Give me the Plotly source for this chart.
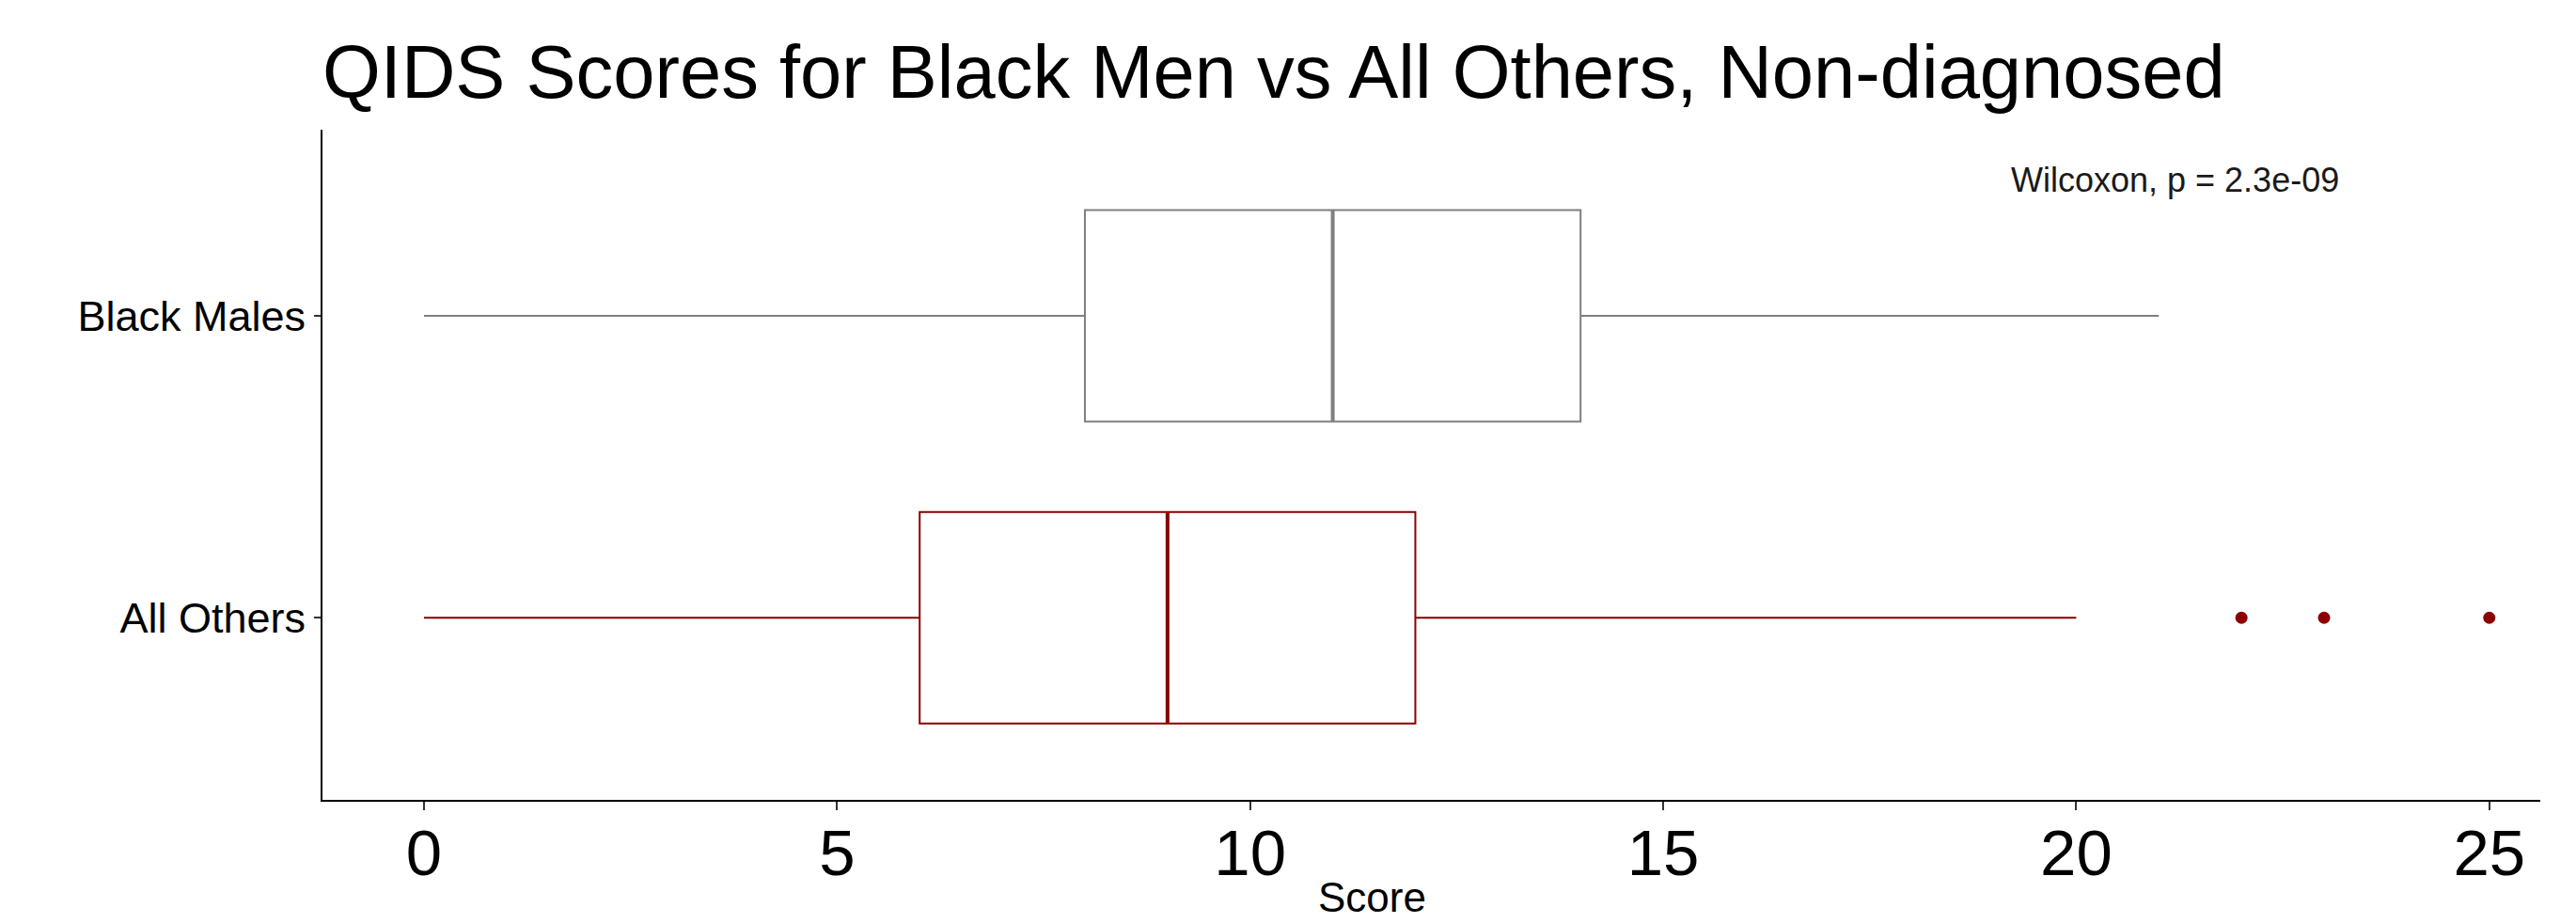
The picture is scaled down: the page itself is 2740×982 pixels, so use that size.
import plotly.graph_objects as go

# QIDS score summaries per group (horizontal boxplots)
categories = ["All Others", "Black Males"]
lower_whisker = [0, 0]
q1 = [6, 8]
median = [9, 11]
q3 = [12, 14]
upper_whisker = [20, 21]
outliers = {"All Others": [22, 23, 25], "Black Males": []}
group_colors = {"All Others": "#8B0000", "Black Males": "#7F7F7F"}

x_ticks = [0, 5, 10, 15, 20, 25]
title_text = "QIDS Scores for Black Men vs All Others, Non-diagnosed"
x_title = "Score"
test_label = "Wilcoxon, p = 2.3e-09"

FONT = "Arial, Liberation Sans, sans-serif"
BOX_WIDTH = 0.7

fig = go.Figure()

for pos, name in enumerate(categories):
    color = group_colors[name]
    fig.add_trace(go.Box(
        y=[pos],
        q1=[q1[pos]], median=[median[pos]], q3=[q3[pos]],
        lowerfence=[lower_whisker[pos]], upperfence=[upper_whisker[pos]],
        orientation="h",
        width=BOX_WIDTH,
        whiskerwidth=0,
        fillcolor="white",
        line=dict(color=color, width=2),
        hoverinfo="skip",
        showlegend=False,
    ))
    # heavier median stroke
    fig.add_trace(go.Scatter(
        x=[median[pos], median[pos]],
        y=[pos - BOX_WIDTH / 2, pos + BOX_WIDTH / 2],
        mode="lines",
        line=dict(color=color, width=4),
        hoverinfo="skip",
        showlegend=False,
    ))
    if outliers[name]:
        fig.add_trace(go.Scatter(
            x=outliers[name],
            y=[pos] * len(outliers[name]),
            mode="markers",
            marker=dict(color=color, size=13),
            hoverinfo="skip",
            showlegend=False,
        ))

fig.update_layout(
    width=2740,
    height=982,
    margin=dict(l=343, r=38, t=138, b=131),
    paper_bgcolor="white",
    plot_bgcolor="white",
    font=dict(family=FONT, color="black"),
    title=dict(
        text=title_text,
        font=dict(size=79.5, family=FONT, color="black"),
        xref="paper", x=0, xanchor="left",
        yref="container", y=1 - 76 / 982, yanchor="middle",
    ),
    xaxis=dict(
        range=[-1.229, 25.617],
        tickvals=x_ticks,
        ticktext=[str(v) for v in x_ticks],
        ticks="outside", ticklen=9, tickwidth=2, tickcolor="#333333",
        ticklabelstandoff=-14,
        tickfont=dict(size=69, family=FONT, color="black"),
        showline=True, linecolor="black", linewidth=2,
        showgrid=False, zeroline=False,
    ),
    yaxis=dict(
        range=[-0.603, 1.616],
        tickvals=list(range(len(categories))),
        ticktext=categories,
        ticks="outside", ticklen=7, tickwidth=2, tickcolor="#333333",
        tickfont=dict(size=45, family=FONT, color="black"),
        showline=True, linecolor="black", linewidth=2,
        showgrid=False, zeroline=False,
    ),
    annotations=[
        dict(
            text=test_label,
            xref="x", yref="y", x=19.19, y=1.448,
            xanchor="left", yanchor="middle",
            showarrow=False,
            font=dict(size=36, family=FONT, color="#1a1a1a"),
        ),
        dict(
            text=x_title,
            xref="paper", yref="paper", x=0.4731, y=-129 / 713,
            xanchor="center", yanchor="bottom",
            borderpad=0,
            showarrow=False,
            font=dict(size=44, family=FONT, color="black"),
        ),
    ],
)

fig.write_html("out.html")
